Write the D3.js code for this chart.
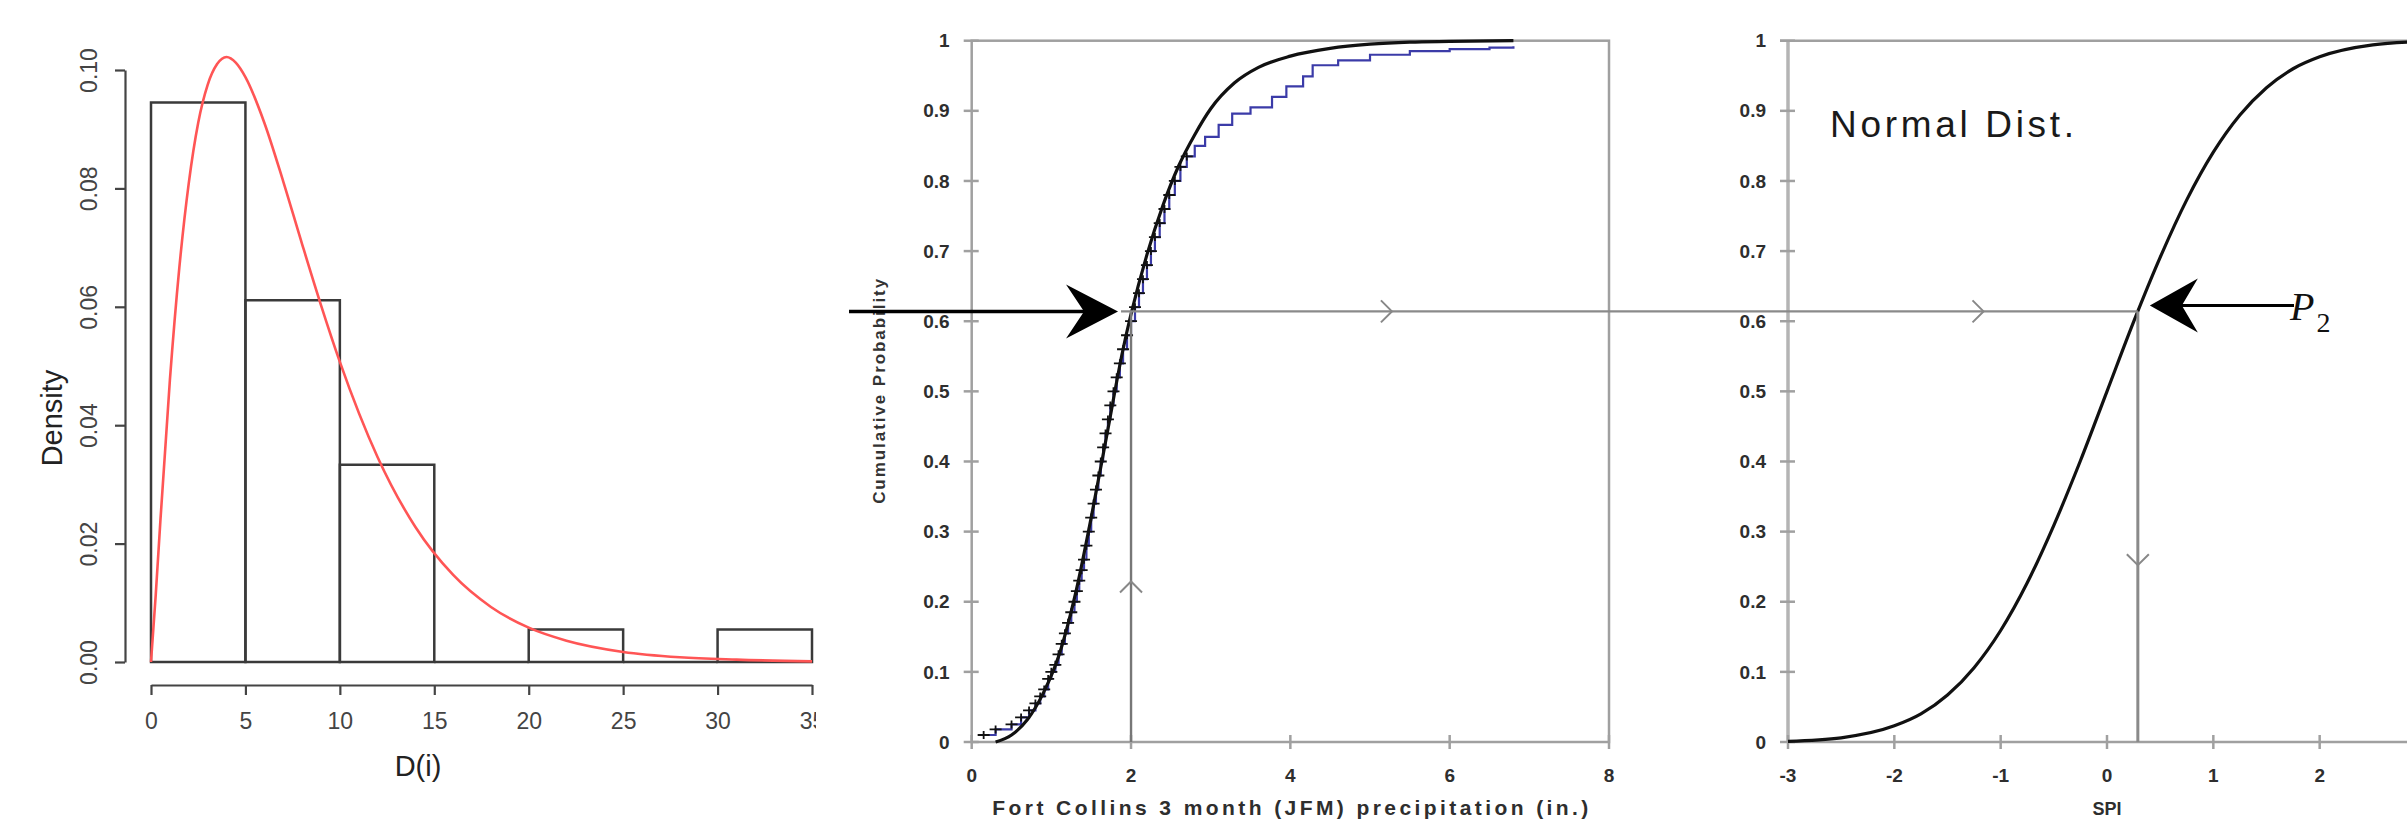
<!DOCTYPE html>
<html>
<head>
<meta charset="utf-8">
<script src="https://cdn.jsdelivr.net/npm/d3@7"></script>
<style>
  body { margin: 0; background: #fff; }
  svg { display: block; }
</style>
</head>
<body>
<svg width="2407" height="829"></svg>
<script>
// ---- left panel: histogram of D(i) with fitted density
const histBreaks = [0, 5, 10, 15, 20, 25, 30, 35];
const histDensity = [0.0945, 0.0611, 0.0333, 0, 0.0055, 0, 0.0055];
const histXTicks = [0, 5, 10, 15, 20, 25, 30, 35];
const histYTicks = [0, 0.02, 0.04, 0.06, 0.08, 0.10];
const fitX = [0, 0.25, 0.5, 1, 1.5, 2, 2.5, 3, 3.5, 4, 4.5, 5, 6, 7, 8, 9, 10, 12, 14, 16, 18, 20, 22, 25, 28, 31, 35];
const fitDensity = [0, 0.0113, 0.024, 0.0476, 0.0666, 0.0809, 0.0911, 0.0975, 0.101, 0.1022, 0.1012, 0.0988, 0.0911, 0.0812, 0.0706, 0.0603, 0.0507, 0.0346, 0.0228, 0.0147, 0.0093, 0.0058, 0.0036, 0.0017, 0.0008, 0.0004, 0.0001];

// ---- middle panel: precipitation CDF (fitted + empirical)
const precipTicks = [0, 2, 4, 6, 8];
const probTicks = [0, 0.1, 0.2, 0.3, 0.4, 0.5, 0.6, 0.7, 0.8, 0.9, 1];
const precipX = [0.3, 0.5, 0.7, 0.9, 1.1, 1.3, 1.5, 1.7, 1.9, 2.0, 2.2, 2.4, 2.6, 2.8, 3.0, 3.3, 3.6, 4.0, 4.5, 5.0, 5.5, 6.0, 6.8];
const fittedCdf = [0, 0.01, 0.032, 0.07, 0.125, 0.21, 0.32, 0.44, 0.56, 0.61, 0.695, 0.765, 0.822, 0.866, 0.903, 0.94, 0.962, 0.978, 0.989, 0.995, 0.998, 0.999, 1.0];
const ecdfX = [0.15, 0.3, 0.5, 0.62, 0.72, 0.8, 0.86, 0.91, 0.96, 1.0, 1.05, 1.09, 1.13, 1.17, 1.21, 1.25, 1.29, 1.32, 1.35, 1.38, 1.41, 1.44, 1.47, 1.5, 1.53, 1.56, 1.59, 1.62, 1.65, 1.68, 1.71, 1.74, 1.78, 1.82, 1.86, 1.9, 1.95, 2.0, 2.05, 2.1, 2.15, 2.2, 2.25, 2.3, 2.36, 2.42, 2.48, 2.55, 2.62, 2.7, 2.8, 2.93, 3.1, 3.27, 3.5, 3.77, 3.95, 4.16, 4.28, 4.6, 5.0, 5.5, 6.0, 6.5, 6.8];
const ecdfP = [0.01, 0.018, 0.025, 0.035, 0.045, 0.055, 0.065, 0.075, 0.09, 0.1, 0.11, 0.125, 0.14, 0.155, 0.17, 0.185, 0.2, 0.215, 0.23, 0.245, 0.26, 0.28, 0.3, 0.32, 0.34, 0.36, 0.38, 0.4, 0.42, 0.44, 0.46, 0.48, 0.5, 0.52, 0.54, 0.56, 0.58, 0.6, 0.62, 0.64, 0.66, 0.68, 0.7, 0.72, 0.74, 0.76, 0.78, 0.8, 0.82, 0.835, 0.85, 0.863, 0.88, 0.896, 0.905, 0.92, 0.935, 0.949, 0.965, 0.972, 0.98, 0.985, 0.988, 0.99, 0.992];

// ---- right panel: standard normal CDF
const spiTicks = [-3, -2, -1, 0, 1, 2];
const spiX = [-3, -2.5, -2, -1.75, -1.5, -1.25, -1, -0.75, -0.5, -0.25, 0, 0.25, 0.5, 0.75, 1, 1.25, 1.5, 1.75, 2, 2.5, 3];
const normalCdf = [0.001, 0.006, 0.023, 0.04, 0.067, 0.106, 0.159, 0.227, 0.309, 0.401, 0.5, 0.599, 0.691, 0.773, 0.841, 0.894, 0.933, 0.96, 0.977, 0.994, 0.999];

// transformation example: p2 read at 2 in. maps to SPI 0.29
const p2 = 0.614, precipAtP2 = 2.0, spiAtP2 = 0.29;

const svg = d3.select("svg");
const sans = "'Liberation Sans', Arial, Helvetica, sans-serif";

// ================= panel 1 =================
svg.append("clipPath").attr("id", "clip1")
    .append("rect").attr("x", 0).attr("y", 0).attr("width", 816).attr("height", 829);

const hx = d3.scaleLinear().domain([0, 35]).range([151, 812]);
const hy = d3.scaleLinear().domain([0, 0.1]).range([662, 70]);
const p1 = svg.append("g").attr("clip-path", "url(#clip1)");

p1.selectAll("path.bar")
    .data(histDensity)
    .enter().append("path")
    .attr("class", "bar")
    .attr("d", (d, i) => `M${hx(histBreaks[i])},${hy(0)}V${hy(d)}H${hx(histBreaks[i + 1])}V${hy(0)}Z`)
    .attr("fill", "none")
    .attr("stroke", "#3a3a3a")
    .attr("stroke-width", 2.5);

p1.append("path")
    .datum(fitX.map((x, i) => [x, fitDensity[i]]))
    .attr("d", d3.line().x(d => hx(d[0])).y(d => hy(d[1])).curve(d3.curveMonotoneX))
    .attr("fill", "none")
    .attr("stroke", "#ff5555")
    .attr("stroke-width", 2.6);

const hyAxis = p1.append("g")
    .attr("transform", "translate(125,0)")
    .call(d3.axisLeft(hy).tickValues(histYTicks).tickFormat(d3.format(".2f")).tickSize(10).tickSizeOuter(0));
const hxAxis = p1.append("g")
    .attr("transform", "translate(0,685)")
    .call(d3.axisBottom(hx).tickValues(histXTicks).tickSize(10).tickSizeOuter(0));

[hyAxis, hxAxis].forEach(g => {
    g.select(".domain").attr("stroke", "#444").attr("stroke-width", 2.2);
    g.selectAll(".tick line").attr("stroke", "#444").attr("stroke-width", 2.2);
    g.selectAll(".tick text")
        .attr("font-family", sans).attr("font-size", 23).attr("fill", "#444");
});
hyAxis.selectAll(".tick text")
    .attr("transform", "rotate(-90)")
    .attr("x", 0).attr("y", -36).attr("dy", "0.35em")
    .attr("text-anchor", "middle");
hxAxis.selectAll(".tick text").attr("y", 36).attr("dy", "0.35em");

p1.append("text")
    .attr("x", 418).attr("y", 766).attr("dy", "0.35em")
    .attr("text-anchor", "middle")
    .attr("font-family", sans).attr("font-size", 29).attr("fill", "#222")
    .text("D(i)");
p1.append("text")
    .attr("transform", "translate(52,418) rotate(-90)")
    .attr("dy", "0.35em")
    .attr("text-anchor", "middle")
    .attr("font-family", sans).attr("font-size", 29).attr("fill", "#222")
    .text("Density");

// ================= shared helpers for panels 2 and 3 =================
const py = d3.scaleLinear().domain([0, 1]).range([742, 40.7]);
const probFmt = d => (d === 0 || d === 1) ? String(d) : d3.format(".1f")(d);
const gridGray = "#a0a0a0";
const lblColor = "#2e2e2e";

function yTicks(g, x0) {
    g.selectAll("line.yt").data(probTicks).enter().append("line")
        .attr("x1", x0 - 8).attr("x2", x0 + 7)
        .attr("y1", d => py(d)).attr("y2", d => py(d))
        .attr("stroke", gridGray).attr("stroke-width", 2.5);
    g.selectAll("text.yl").data(probTicks).enter().append("text")
        .attr("x", x0 - 22).attr("y", d => py(d)).attr("dy", "0.35em")
        .attr("text-anchor", "end")
        .attr("font-family", sans).attr("font-size", 19).attr("font-weight", "bold")
        .attr("fill", lblColor)
        .text(probFmt);
}
function xTicks(g, scale, ticks) {
    g.selectAll("line.xt").data(ticks).enter().append("line")
        .attr("x1", d => scale(d)).attr("x2", d => scale(d))
        .attr("y1", py(0) - 7).attr("y2", py(0) + 7)
        .attr("stroke", gridGray).attr("stroke-width", 2.5);
    g.selectAll("text.xl").data(ticks).enter().append("text")
        .attr("x", d => scale(d)).attr("y", 775).attr("dy", "0.35em")
        .attr("text-anchor", "middle")
        .attr("font-family", sans).attr("font-size", 19).attr("font-weight", "bold")
        .attr("fill", lblColor)
        .text(d => d);
}
function chevron(g, x, y, dir) {
    const s = 11, t = 9;
    let d;
    if (dir === "right") d = `M${x - t},${y - s}L${x + 2},${y}L${x - t},${y + s}`;
    if (dir === "up") d = `M${x - s},${y + t}L${x},${y - 2}L${x + s},${y + t}`;
    if (dir === "down") d = `M${x - s},${y - t}L${x},${y + 2}L${x + s},${y - t}`;
    g.append("path").attr("d", d).attr("fill", "none")
        .attr("stroke", "#888").attr("stroke-width", 2);
}

// ================= panel 2 =================
const mx = d3.scaleLinear().domain([0, 8]).range([971.7, 1609]);
const p2g = svg.append("g");

p2g.append("rect")
    .attr("x", mx(0)).attr("y", py(1))
    .attr("width", mx(8) - mx(0)).attr("height", py(0) - py(1))
    .attr("fill", "none").attr("stroke", gridGray).attr("stroke-width", 2.5);
yTicks(p2g, mx(0));
xTicks(p2g, mx, precipTicks);

// empirical CDF (blue steps with + markers)
const ecdf = ecdfX.map((x, i) => [x, ecdfP[i]]);
p2g.append("path")
    .datum(ecdf)
    .attr("d", d3.line().x(d => mx(d[0])).y(d => py(d[1])).curve(d3.curveStepAfter))
    .attr("fill", "none").attr("stroke", "#3b3ba8").attr("stroke-width", 2.2);
p2g.selectAll("path.mark").data(ecdf.filter(d => d[1] < 0.84)).enter().append("path")
    .attr("class", "mark")
    .attr("d", d => `M${mx(d[0]) - 6},${py(d[1])}H${mx(d[0]) + 6}M${mx(d[0])},${py(d[1]) - 4}V${py(d[1]) + 4}`)
    .attr("stroke", "#111").attr("stroke-width", 1.8);

// fitted CDF
p2g.append("path")
    .datum(precipX.map((x, i) => [x, fittedCdf[i]]))
    .attr("d", d3.line().x(d => mx(d[0])).y(d => py(d[1])).curve(d3.curveMonotoneX))
    .attr("fill", "none").attr("stroke", "#111").attr("stroke-width", 3.2);

p2g.append("text")
    .attr("x", (mx(0) + mx(8)) / 2).attr("y", 815)
    .attr("text-anchor", "middle")
    .attr("font-family", sans).attr("font-size", 21).attr("font-weight", "bold")
    .attr("fill", lblColor)
    .attr("textLength", 596).attr("lengthAdjust", "spacing")
    .text("Fort Collins 3 month (JFM) precipitation (in.)");
p2g.append("text")
    .attr("transform", `translate(879,${(py(0) + py(1)) / 2}) rotate(-90)`)
    .attr("dy", "0.35em")
    .attr("text-anchor", "middle")
    .attr("font-family", sans).attr("font-size", 17).attr("font-weight", "bold")
    .attr("fill", "#333")
    .attr("textLength", 225).attr("lengthAdjust", "spacing")
    .text("Cumulative Probability");

// ================= panel 3 =================
const sx = d3.scaleLinear().domain([-3, 3]).range([1788, 2426]);
const p3g = svg.append("g");
p3g.append("line").attr("x1", sx(-3) - 8).attr("x2", sx(3)).attr("y1", py(1)).attr("y2", py(1))
    .attr("stroke", gridGray).attr("stroke-width", 2.5);
p3g.append("line").attr("x1", sx(-3)).attr("x2", sx(3)).attr("y1", py(0)).attr("y2", py(0))
    .attr("stroke", gridGray).attr("stroke-width", 2.5);
p3g.append("line").attr("x1", sx(-3)).attr("x2", sx(-3)).attr("y1", py(1)).attr("y2", py(0))
    .attr("stroke", "#b4b4b4").attr("stroke-width", 3.5);
yTicks(p3g, sx(-3));
xTicks(p3g, sx, spiTicks);

p3g.append("path")
    .datum(spiX.map((x, i) => [x, normalCdf[i]]))
    .attr("d", d3.line().x(d => sx(d[0])).y(d => py(d[1])).curve(d3.curveMonotoneX))
    .attr("fill", "none").attr("stroke", "#111").attr("stroke-width", 3.2);

p3g.append("text")
    .attr("x", sx(0)).attr("y", 815)
    .attr("text-anchor", "middle")
    .attr("font-family", sans).attr("font-size", 18).attr("font-weight", "bold")
    .attr("fill", lblColor)
    .text("SPI");
p3g.append("text")
    .attr("x", 1830).attr("y", 137)
    .attr("font-family", sans).attr("font-size", 37).attr("fill", "#1a1a1a")
    .attr("textLength", 244).attr("lengthAdjust", "spacing")
    .text("Normal Dist.");

// ================= transformation annotation =================
const ann = svg.append("g");
const yP = py(p2);
const xA = mx(precipAtP2);
const xB = sx(spiAtP2);

// gray guide lines
ann.append("line").attr("x1", xA).attr("x2", xA).attr("y1", py(0)).attr("y2", yP)
    .attr("stroke", "#777").attr("stroke-width", 2.4);
ann.append("line").attr("x1", xA - 10).attr("x2", xB).attr("y1", yP).attr("y2", yP)
    .attr("stroke", "#8a8a8a").attr("stroke-width", 2.4);
ann.append("line").attr("x1", xB).attr("x2", xB).attr("y1", yP).attr("y2", py(0))
    .attr("stroke", "#8a8a8a").attr("stroke-width", 3);
chevron(ann, mx(5.25), yP, "right");
chevron(ann, sx(-1.18), yP, "right");
chevron(ann, xA, py(0.226), "up");
chevron(ann, xB, py(0.255), "down");

// left black arrow into the precipitation curve
const tipL = xA - 13;
ann.append("line").attr("x1", mx(-1.54)).attr("x2", tipL - 30).attr("y1", yP).attr("y2", yP)
    .attr("stroke", "#000").attr("stroke-width", 3.5);
ann.append("path")
    .attr("d", `M${tipL},${yP}L${tipL - 52},${yP - 27}L${tipL - 34},${yP}L${tipL - 52},${yP + 27}Z`)
    .attr("fill", "#000");

// P2 arrow into the normal curve
const yR = yP - 6;
const tipR = xB + 12;
ann.append("line").attr("x1", tipR + 30).attr("x2", 2294).attr("y1", yR).attr("y2", yR)
    .attr("stroke", "#000").attr("stroke-width", 3);
ann.append("path")
    .attr("d", `M${tipR},${yR}L${tipR + 48},${yR - 27}L${tipR + 32},${yR}L${tipR + 48},${yR + 27}Z`)
    .attr("fill", "#000");
const pLabel = ann.append("text")
    .attr("x", 2290).attr("y", 320)
    .attr("font-family", "'Liberation Serif', 'Times New Roman', serif")
    .attr("fill", "#111");
pLabel.append("tspan").attr("font-style", "italic").attr("font-size", 40).text("P");
pLabel.append("tspan").attr("font-size", 28).attr("dy", 12).attr("dx", 2).text("2");
</script>
</body>
</html>
